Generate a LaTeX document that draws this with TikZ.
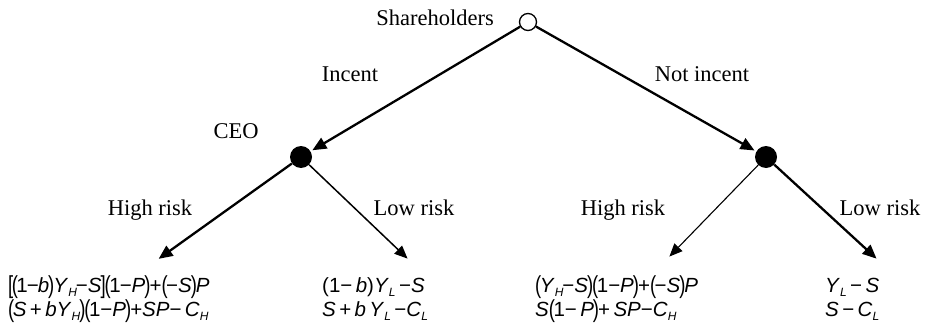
\documentclass[tikz,border=0pt]{standalone}
\usepackage{fontspec}
\usepackage{graphicx}
\setmainfont{Liberation Serif}
\newfontfamily\eqf{Liberation Sans}
\usetikzlibrary{arrows.meta}
\newcommand\vv[1]{\textit{#1}}
\newcommand\sbs[1]{\raisebox{-0.45ex}{\fontsize{12}{12}\selectfont\itshape #1}}
\newcommand\mn{−}
\newcommand\lp{\raisebox{-0.1ex}{\scalebox{0.9}[1.2]{(}}\kern-1.5pt}
\newcommand\rp{\kern-1pt\raisebox{-0.1ex}{\scalebox{0.9}[1.2]{)}}\kern-1pt}
\newcommand\lb{\raisebox{-0.1ex}{\scalebox{0.9}[1.2]{[}}\kern-1.5pt}
\newcommand\rb{\kern-1pt\raisebox{-0.1ex}{\scalebox{0.9}[1.2]{]}}\kern-1pt}
\tikzset{
  lbl/.style={font=\fontsize{22.5}{26}\selectfont, inner sep=0pt, anchor=base},
  eq/.style={font=\eqf\fontsize{20.5}{24}\selectfont, inner sep=0pt, anchor=base west},
  chance/.style={circle, draw, line width=1.3pt, fill=white, minimum size=17pt, inner sep=0pt},
  dec/.style={circle, fill=black, minimum size=22pt, inner sep=0pt},
  thk/.style={line width=2.3pt, -{Triangle[length=14pt,width=12pt]}, shorten >=2pt},
  thn/.style={line width=1.1pt, -{Triangle[length=13pt,width=11pt]}, shorten >=2pt},
}
\begin{document}
\begin{tikzpicture}[x=1pt,y=-1pt]
\useasboundingbox (0,0) rectangle (928,334);
% nodes
\node[chance] (root) at (528,22) {};
\node[dec] (ceo) at (301,157) {};
\node[dec] (rnode) at (766,157) {};
\coordinate (lh) at (157,260);
\coordinate (ll) at (409,260);
\coordinate (rh) at (668,258);
\coordinate (rl) at (878,260);
% labels
\node[lbl, anchor=base east] (sh) at (494,26) {Shareholders};
\node[lbl] (inc) at (350,82) {Incent};
\node[lbl] (ninc) at (702,82) {Not incent};
\node[lbl] (ceolbl) at (236,139) {CEO};
\node[lbl] (hr1) at (150,215) {High risk};
\node[lbl] (lr1) at (414,215) {Low risk};
\node[lbl] (hr2) at (623,215) {High risk};
\node[lbl] (lr2) at (880,215) {Low risk};
% connectors
\draw[thk] (root) -- (ceo);
\draw[thk] (root) -- (rnode);
\draw[thk] (ceo) -- (lh);
\draw[thn, line width=1.5pt] (ceo) -- (ll);
\draw[thn] (rnode) -- (rh);
\draw[thk] (rnode) -- (rl);
% payoffs
\node[eq] (e1a) at (8,292) {\lb\lp 1\kern-1pt\mn\kern-1pt\vv{b}\rp\vv{Y}\sbs{H}\kern-1pt\mn\vv{S}\rb\lp 1\kern-1pt\mn\vv{P}\rp+\lp\mn\vv{S}\rp\vv{P}};
\node[eq] (e1b) at (8,316) {\lp\vv{S}\,+\,\vv{bY}\sbs{H}\rp\lp 1\mn\vv{P}\rp+\vv{SP}\mn\,\vv{C}\sbs{H}};
\node[eq] (e2a) at (322,292) {(1\mn\,\vv{b})\vv{Y}\sbs{L}\,\mn\vv{S}};
\node[eq] (e2b) at (322,316) {\vv{S}\,+\,\vv{b}\,\vv{Y}\sbs{L}\,\mn\vv{C}\sbs{L}};
\node[eq] (e3a) at (535,292) {\lp\vv{Y}\sbs{H}\kern-1pt\mn\vv{S}\rp\lp 1\mn\vv{P}\rp+\lp\mn\vv{S}\rp\vv{P}};
\node[eq] (e3b) at (535,316) {\vv{S}\lp 1\mn\,\vv{P}\rp+\,\vv{SP}\mn\vv{C}\sbs{H}};
\node[eq] (e4a) at (825,292) {\vv{Y}\sbs{L}\,\mn\,\vv{S}};
\node[eq] (e4b) at (825,316) {\vv{S}\,\mn\,\vv{C}\sbs{L}};
\end{tikzpicture}
\end{document}
